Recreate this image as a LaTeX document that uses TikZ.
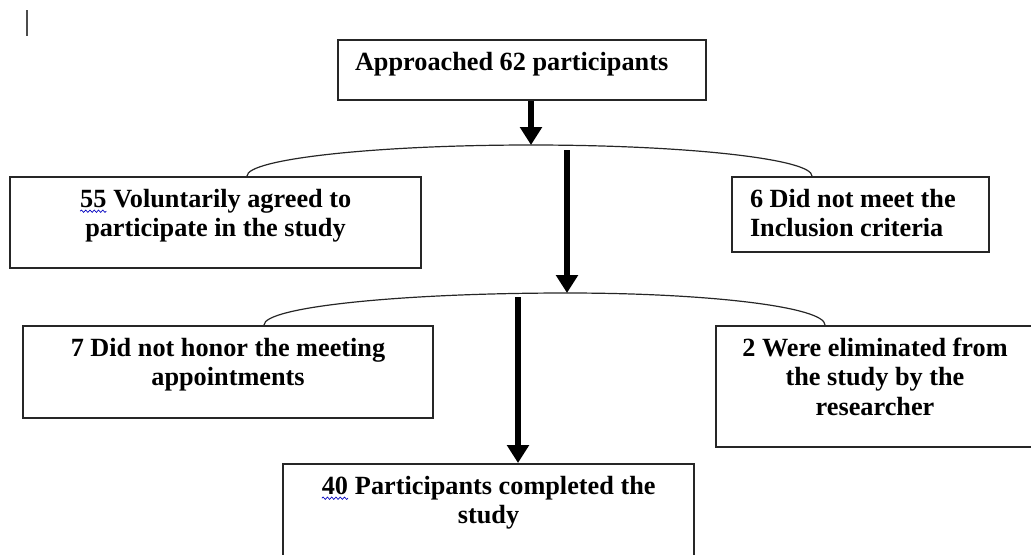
\documentclass[tikz,border=0pt]{standalone}
\usepackage{fontspec}
\setmainfont{Liberation Serif}
\usetikzlibrary{arrows.meta,decorations.pathmorphing}
\newcommand{\spellmark}[1]{\tikz[baseline=(w.base)]{\node[draw=none, inner sep=0pt, outer sep=0pt, minimum width=0pt, minimum height=0pt, text height=, text depth=, text width=] (w) {#1};
  \draw[blue!75!black, line width=0.5pt, decorate, decoration={snake, amplitude=0.9pt, segment length=3.2pt}] ([yshift=-2.8pt]w.base west) -- ([yshift=-2.8pt]w.base east);}}

\begin{document}
\begin{tikzpicture}[x=0.75pt, y=-0.75pt,
  box/.style={draw=black!85, line width=1.2pt, align=flush center, anchor=north, inner xsep=0pt, inner ysep=9.5pt,
    text height=13.5pt, font=\fontsize{19.7}{22}\selectfont\bfseries},
  arr/.style={-{Triangle[length=13.5pt, width=16pt]}, line width=4.3pt},
  branch/.style={draw=black!85, line width=0.9pt}
]
  \useasboundingbox (0,0) rectangle (1031,554);
  \draw[black!70, line width=0.9pt] (27,10) -- (27,36);

  \node[box, text depth=12.5pt, align=flush left, inner xsep=12.75pt, text width=250.5pt] (top) at (522,39) {Approached 62 participants};
  \node[box, text width=308.25pt, text depth=35.75pt] (agreed) at (215.5,176) {\spellmark{55} Voluntarily agreed to\\participate in the study};
  \node[box, text depth=23.75pt, align=flush left, inner xsep=13.5pt, text width=165.75pt] (excluded) at (860.5,176) {6 Did not meet the\\Inclusion criteria};
  \node[box, text width=307.5pt, text depth=36.5pt] (noshow) at (228,325) {7 Did not honor the meeting\\appointments};
  \node[box, text width=238.5pt, text depth=58.25pt] (removed) at (875,325) {2 Were eliminated from\\the study by the\\researcher};
  \node[box, text width=308.25pt, text depth=55pt] (done) at (488.5,463) {\spellmark{40} Participants completed the\\study};

  % forks
  \coordinate (f1) at (531,145);
  \coordinate (f2) at (567,293);
  \coordinate (s2) at (567,150);
  \coordinate (s3) at (518,297);

  \draw[branch] (247,176) .. controls (247,159) and (375,145) .. (f1)
    .. controls (687,145) and (812,159) .. (812,176);
  \draw[branch] (264,325) .. controls (264,307) and (400,293) .. (f2)
    .. controls (709,293) and (825,307) .. (825,325);

  \draw[arr] (top.south -| f1) -- (f1);
  \draw[arr] (s2) -- (f2);
  \draw[arr] (s3) -- (s3 |- done.north);
\end{tikzpicture}
\end{document}
